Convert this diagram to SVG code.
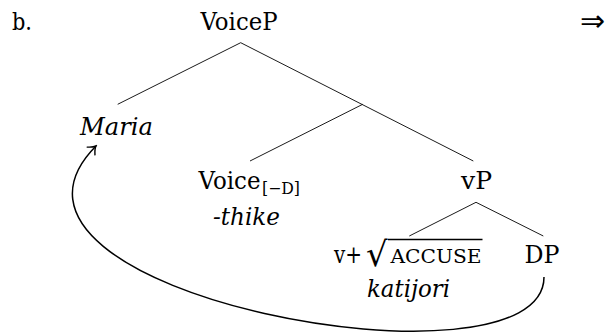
<svg xmlns="http://www.w3.org/2000/svg" width="606" height="334" viewBox="0 0 606 334">
<style>
 .t{font-family:"DejaVu Serif","Liberation Serif",serif;font-size:24px;fill:#000}
 .i{font-style:italic}
 .sub{font-size:17px}
 .sc{font-size:18px}
 .e{stroke:#000;stroke-width:0.9;fill:none}
 .mv{stroke:#000;stroke-width:1.5;fill:none}
</style>
<defs>
 <marker id="ah" markerUnits="userSpaceOnUse" viewBox="-10 -8 12 16" markerWidth="12" markerHeight="16" refX="0" refY="0" orient="auto">
  <path d="M-7,-5.5 Q-3,-1 0,0 Q-3,1 -7,5.5" stroke="#000" stroke-width="1.4" fill="none" stroke-linecap="round"/>
 </marker>
</defs>
<rect width="606" height="334" fill="#fff"/>
<g id="label-b"><text class="t" x="12" y="29.5" textLength="20" lengthAdjust="spacingAndGlyphs">b.</text></g>
<g id="next"><text x="580" y="31" style="font-family:'DejaVu Sans',sans-serif;font-size:30px">⇒</text></g>
<g id="voiceP"><text class="t" x="200.5" y="29.5" textLength="77" lengthAdjust="spacingAndGlyphs">VoiceP</text></g>
<g id="maria"><text class="t i" x="80" y="135" textLength="73" lengthAdjust="spacingAndGlyphs">Maria</text></g>
<g id="voice"><text class="t" x="198.5" y="188.5" textLength="62" lengthAdjust="spacingAndGlyphs">Voice</text>
 <text class="t sub" x="262" y="194" textLength="38" lengthAdjust="spacingAndGlyphs">[−D]</text>
 <text class="t i" x="213" y="225" textLength="67" lengthAdjust="spacingAndGlyphs">-thike</text></g>
<g id="vP"><text class="t" x="461" y="188.5" textLength="31" lengthAdjust="spacingAndGlyphs">vP</text></g>
<g id="vroot"><text class="t" x="334" y="263" textLength="28" lengthAdjust="spacingAndGlyphs">v+</text>
 <text x="366" y="266" style="font-family:'DejaVu Serif',serif;font-size:34px">√</text>
 <line x1="388" y1="239.5" x2="482.5" y2="239.5" stroke="#000" stroke-width="1.3"/>
 <text class="t sc" x="390.5" y="263" textLength="91" lengthAdjust="spacingAndGlyphs">ACCUSE</text>
 <text class="t i" x="367" y="297" textLength="83" lengthAdjust="spacingAndGlyphs">katijori</text></g>
<g id="DP"><text class="t" x="524.5" y="263" textLength="35" lengthAdjust="spacingAndGlyphs">DP</text></g>
<g id="connectors">
 <path class="e" d="M117.7,104.3 L240.7,42.7 L473.3,161"/>
 <path class="e" d="M250,161 L362.7,104.3"/>
 <path class="e" d="M409.3,236 L476,202.3 L543.3,236"/>
 <path class="mv" d="M544,277 C544,400 -52,295 96,146" marker-end="url(#ah)"/>
</g>
</svg>
